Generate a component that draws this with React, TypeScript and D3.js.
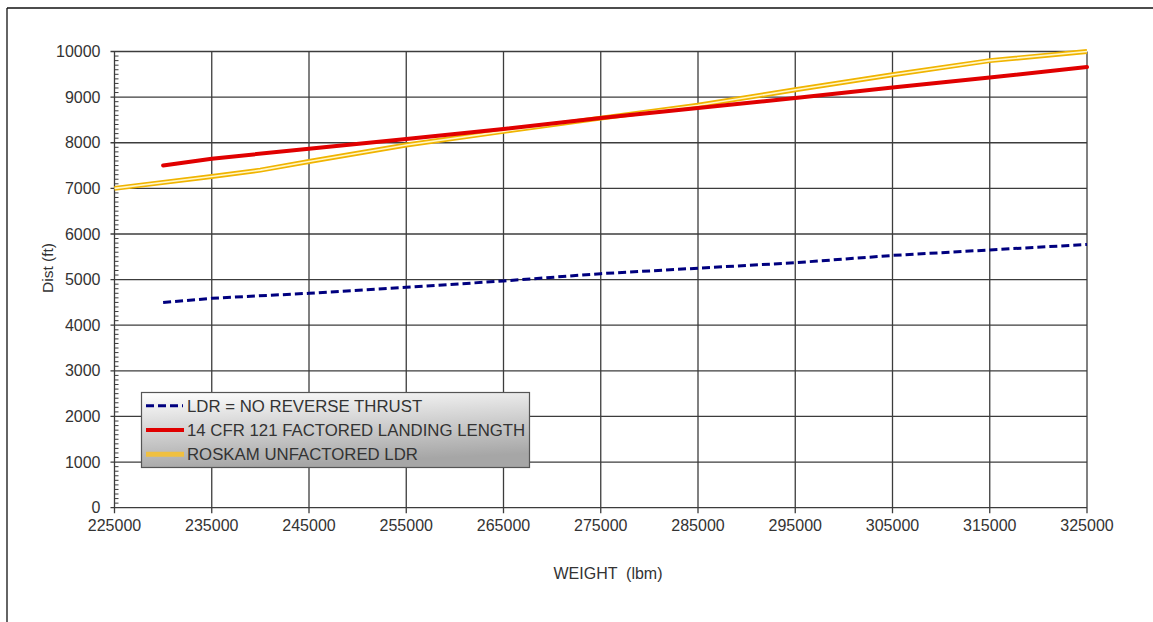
import React from "react";
import * as d3 from "d3";

const xTicks = [225000, 235000, 245000, 255000, 265000, 275000, 285000, 295000, 305000, 315000, 325000];
const yTicks = [0, 1000, 2000, 3000, 4000, 5000, 6000, 7000, 8000, 9000, 10000];

const ldrWeights = [230000, 235000, 245000, 255000, 265000, 275000, 285000, 295000, 305000, 315000, 325000];
const ldrValues = [4500, 4590, 4700, 4830, 4970, 5130, 5250, 5370, 5530, 5650, 5770];

const cfrWeights = [230000, 235000, 245000, 255000, 265000, 275000, 285000, 295000, 305000, 315000, 325000];
const cfrValues = [7500, 7650, 7870, 8080, 8300, 8540, 8760, 8980, 9210, 9430, 9660];

const roskamWeights = [225000, 235000, 240000, 245000, 255000, 265000, 275000, 285000, 295000, 305000, 315000, 325000];
const roskamValues = [7000, 7260, 7400, 7590, 7950, 8250, 8540, 8820, 9160, 9490, 9800, 10000];

const legendLabels = ["LDR = NO REVERSE THRUST", "14 CFR 121 FACTORED LANDING LENGTH", "ROSKAM UNFACTORED LDR"];

const W = 1153;
const H = 622;
const FONT = "'Liberation Sans', Arial, sans-serif";

export default function App() {
  const x = d3.scaleLinear().domain([225000, 325000]).range([114.5, 1087]);
  const y = d3.scaleLinear().domain([0, 10000]).range([507.7, 51.5]);
  const minor = d3.range(0, 10001, 100).filter((v) => v % 1000 !== 0);

  const mk = (ws: number[], vs: number[]) =>
    d3
      .line<number>()
      .x((_, i) => x(ws[i]))
      .y((v) => y(v))(vs) as string;

  const ldrPath = mk(ldrWeights, ldrValues);
  const cfrPath = mk(cfrWeights, cfrValues);
  const roskamPath = mk(roskamWeights, roskamValues);

  const grid = "#3c3c3c";
  const txt = "#333";

  const lg = { x: 141.5, y: 392.5, w: 388, h: 75 };
  const rowY = [405.7, 430, 454.3];

  return (
    <svg
      width={W}
      height={H}
      style={{ position: "absolute", left: 0, top: 0, background: "#fff" }}
      fontFamily={FONT}
    >
      <defs>
        <linearGradient id="lgGrad" x1="0" y1="0" x2="0.25" y2="1">
          <stop offset="0" stopColor="#ffffff" />
          <stop offset="1" stopColor="#a6a6a6" />
        </linearGradient>
        <clipPath id="plotClip">
          <rect x={x(225000) - 3} y={y(10000) - 3} width={x(325000) - x(225000) + 6} height={y(0) - y(10000) + 6} />
        </clipPath>
      </defs>
      <rect x={0} y={0} width={W} height={H} fill="#fff" />
      {/* outer frame */}
      <line x1={7} y1={8} x2={W} y2={8} stroke="#111" strokeWidth={1.3} />
      <line x1={7} y1={8} x2={7} y2={H} stroke="#111" strokeWidth={1.3} />

      {/* horizontal gridlines */}
      {yTicks.map((t) => (
        <line key={"hg" + t} x1={x(225000) - 4} x2={x(325000)} y1={y(t)} y2={y(t)} stroke={grid} strokeWidth={1.3} />
      ))}
      {/* vertical gridlines */}
      {xTicks.map((t) => (
        <line key={"vg" + t} x1={x(t)} x2={x(t)} y1={y(10000)} y2={y(0) + 5.5} stroke={grid} strokeWidth={1.3} />
      ))}
      {/* minor y ticks */}
      {minor.map((t) => (
        <line key={"mt" + t} x1={x(225000)} x2={x(225000) + 4} y1={y(t)} y2={y(t)} stroke={grid} strokeWidth={1} />
      ))}

      {/* y tick labels */}
      {yTicks.map((t) => (
        <text key={"yl" + t} x={100.5} y={y(t) + 5.6} textAnchor="end" fontSize={16} fill={txt}>
          {t}
        </text>
      ))}
      {/* x tick labels */}
      {xTicks.map((t) => (
        <text key={"xl" + t} x={x(t)} y={531} textAnchor="middle" fontSize={16} fill={txt}>
          {t}
        </text>
      ))}

      {/* axis titles */}
      <text x={608} y={579} textAnchor="middle" fontSize={16} fill={txt} style={{ whiteSpace: "pre" }}>
        {"WEIGHT  (lbm)"}
      </text>
      <text transform={`translate(52.5,268) rotate(-90)`} textAnchor="middle" fontSize={15.5} fill={txt}>
        Dist (ft)
      </text>

      {/* series */}
      <g clipPath="url(#plotClip)">
        <path d={ldrPath} fill="none" stroke="#00007f" strokeWidth={3} strokeDasharray="8,4" />
        <path d={roskamPath} fill="none" stroke="#f0b400" strokeWidth={5} />
        <path d={roskamPath} fill="none" stroke="#fff6c8" strokeWidth={1.6} />
        <path d={cfrPath} fill="none" stroke="#e00000" strokeWidth={4} strokeLinecap="round" />
      </g>

      {/* legend */}
      <rect x={lg.x} y={lg.y} width={lg.w} height={lg.h} fill="url(#lgGrad)" stroke="#555" strokeWidth={1.2} />
      <line x1={146} x2={183} y1={rowY[0]} y2={rowY[0]} stroke="#00007f" strokeWidth={3} strokeDasharray="8,4" />
      <line x1={146} x2={184} y1={rowY[1]} y2={rowY[1]} stroke="#e00000" strokeWidth={4} />
      <line x1={146} x2={184} y1={rowY[2]} y2={rowY[2]} stroke="#f0c040" strokeWidth={5} />
      {legendLabels.map((l, i) => (
        <text key={l} x={187} y={rowY[i] + 6} fontSize={16.8} fill={txt}>
          {l}
        </text>
      ))}
    </svg>
  );
}
